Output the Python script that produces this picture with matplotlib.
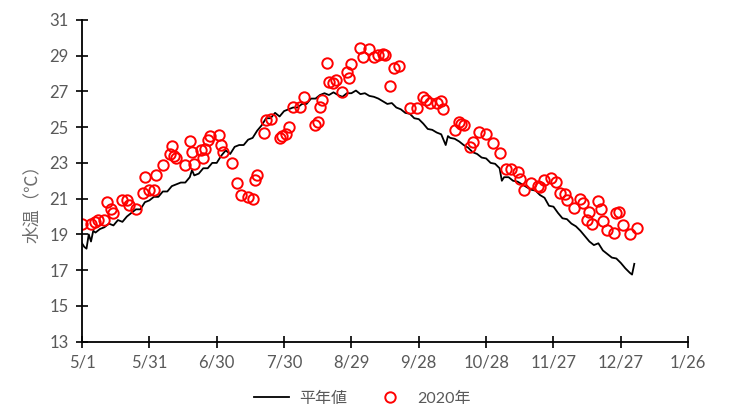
import numpy as np
import pandas as pd
import matplotlib
matplotlib.use("Agg")
import matplotlib.pyplot as plt
import matplotlib.dates as mdates

plt.rcParams['font.family'] = ['Lato', 'Noto Sans CJK JP', 'DejaVu Sans']

start = pd.Timestamp("2020-05-01")

# 平年値 (days after 5/1, water temperature)
normal_days = [0, 1, 2, 3, 4, 5, 6, 8, 10, 12, 14, 16, 18, 20, 22, 24, 26, 28, 30, 32,
               34, 36, 38, 40, 42, 44, 46, 48, 49, 50, 52, 54, 56, 58, 60, 62, 64, 66, 68, 70,
               72, 74, 76, 78, 80, 82, 84, 86, 88, 90, 92, 94, 96, 98, 100, 102, 104, 106, 108, 110,
               112, 114, 116, 118, 120, 122, 124, 126, 128, 130, 132, 134, 136, 138, 140, 142, 144, 146, 148, 150,
               152, 154, 156, 158, 160, 162, 163, 164, 166, 168, 170, 172, 174, 176, 178, 180, 182, 184, 186, 187,
               188, 190, 192, 194, 196, 198, 200, 202, 204, 206, 208, 210, 212, 214, 216, 218, 220, 222, 224, 226,
               228, 230, 232, 234, 236, 238, 240, 242, 244, 245, 246]
normal_vals = [18.5, 18.3, 18.2, 19.0, 18.6, 19.2, 19.1, 19.3, 19.4, 19.6, 19.5, 19.8, 19.7, 20.0, 20.2, 20.4, 20.4, 20.8, 20.9, 21.1,
               21.1, 21.4, 21.4, 21.7, 21.8, 21.9, 21.9, 22.2, 22.6, 22.3, 22.4, 22.7, 22.7, 23.0, 23.0, 23.4, 23.7, 23.5, 23.9, 24.0,
               24.0, 24.3, 24.4, 24.8, 25.1, 25.5, 25.5, 25.8, 25.6, 25.9, 26.0, 26.1, 26.1, 26.3, 26.3, 26.6, 26.6, 26.8, 26.9, 26.8,
               26.95, 26.8, 26.7, 26.9, 26.9, 27.05, 26.85, 26.9, 26.75, 26.7, 26.6, 26.45, 26.3, 26.35, 26.1, 26.0, 25.8, 25.75, 25.5, 25.45,
               25.2, 24.9, 24.85, 24.7, 24.6, 24.0, 24.5, 24.4, 24.35, 24.2, 24.0, 23.85, 23.6, 23.5, 23.3, 23.25, 23.0, 22.95, 22.7, 22.0,
               22.2, 22.2, 22.0, 21.95, 21.8, 21.65, 21.5, 21.45, 21.2, 21.05, 20.6, 20.55, 20.2, 19.9, 19.85, 19.6, 19.45, 19.2, 18.9, 18.6,
               18.4, 18.5, 18.1, 17.9, 17.7, 17.65, 17.4, 17.1, 16.85, 16.75, 17.35]

# 2020年 observations
obs_days = [0, 4, 6, 7, 10, 11, 13, 14, 18, 20, 21, 24, 27, 28, 30, 32, 33, 36, 39, 40,
            41, 42, 46, 48, 49, 50, 53, 54, 55, 56, 57, 61, 62, 63, 67, 69, 71, 74, 76, 77,
            78, 81, 82, 84, 88, 89, 91, 92, 94, 97, 99, 104, 105, 106, 107, 109, 110, 112, 113, 116,
            118, 119, 120, 124, 125, 128, 130, 132, 134, 135, 137, 139, 141, 146, 149, 152, 153, 155, 158, 160,
            161, 166, 168, 169, 170, 173, 174, 177, 180, 183, 186, 189, 191, 194, 195, 197, 200, 203, 204, 206,
            209, 211, 213, 215, 216, 219, 222, 223, 225, 226, 227, 230, 231, 232, 234, 237, 238, 239, 241, 244,
            247]
obs_vals = [19.6, 19.6, 19.7, 19.8, 19.8, 20.8, 20.4, 20.2, 20.9, 20.9, 20.65, 20.4, 21.3, 22.2, 21.5, 21.5, 22.3, 22.9, 23.5, 23.95,
            23.4, 23.25, 22.9, 24.2, 23.6, 22.95, 23.7, 23.3, 23.8, 24.3, 24.5, 24.55, 24.0, 23.6, 23.0, 21.85, 21.2, 21.1, 21.0, 22.05,
            22.3, 24.65, 25.4, 25.45, 24.4, 24.5, 24.6, 25.0, 26.15, 26.15, 26.7, 25.1, 25.3, 26.15, 26.5, 28.6, 27.55, 27.45, 27.65, 26.95,
            28.1, 27.75, 28.55, 29.45, 28.95, 29.35, 28.95, 29.05, 29.1, 29.05, 27.3, 28.3, 28.4, 26.1, 26.1, 26.7, 26.5, 26.35, 26.35, 26.45,
            26.0, 24.85, 25.3, 25.2, 25.1, 23.9, 24.15, 24.75, 24.6, 24.1, 23.55, 22.65, 22.65, 22.5, 22.1, 21.5, 21.85, 21.7, 21.65, 22.05,
            22.15, 21.95, 21.3, 21.25, 20.9, 20.5, 21.0, 20.75, 19.8, 20.25, 19.6, 20.85, 20.4, 19.75, 19.25, 19.1, 20.2, 20.25, 19.5, 19.0,
            19.35]

tick_dates = pd.date_range("2020-05-01", periods=10, freq="30D")

normal_x = start + pd.to_timedelta(normal_days, unit="D")
obs_x = start + pd.to_timedelta(obs_days, unit="D")

fig = plt.figure(figsize=(7.29, 4.12), dpi=100)
ax = fig.add_axes([0.1125, 0.171, 0.8315, 0.7805])

ax.plot(normal_x, normal_vals, color="black", lw=1.3, label="平年値")
ax.plot(obs_x, obs_vals, ls="none", marker="o", ms=7.5, mfc="none", mec="#ff0000", mew=1.4, label="2020年")

ax.set_xlim(tick_dates[0], tick_dates[-1])
ax.set_ylim(13, 31)
ax.set_yticks(np.arange(13, 32, 2))
ax.set_xticks(tick_dates)
ax.xaxis.set_major_formatter(plt.FuncFormatter(lambda v, p: f"{mdates.num2date(v).month}/{mdates.num2date(v).day}"))

for s in ["top", "right"]:
    ax.spines[s].set_visible(False)
for s in ["left", "bottom"]:
    ax.spines[s].set_linewidth(1.3)
ax.tick_params(direction="inout", length=9, width=1.2, labelsize=12, labelcolor="#595959", pad=5)
ax.set_ylabel("水温（℃）", fontsize=12.5, color="#6e6e6e")
ax.yaxis.set_label_coords(-0.07, 0.44)

fig.legend(loc="lower center", bbox_to_anchor=(0.497, -0.02), ncol=2, frameon=False,
           fontsize=11.5, labelcolor="#595959", handlelength=2.2, handletextpad=0.6, columnspacing=1.6)

plt.savefig("out.png", dpi=100)
